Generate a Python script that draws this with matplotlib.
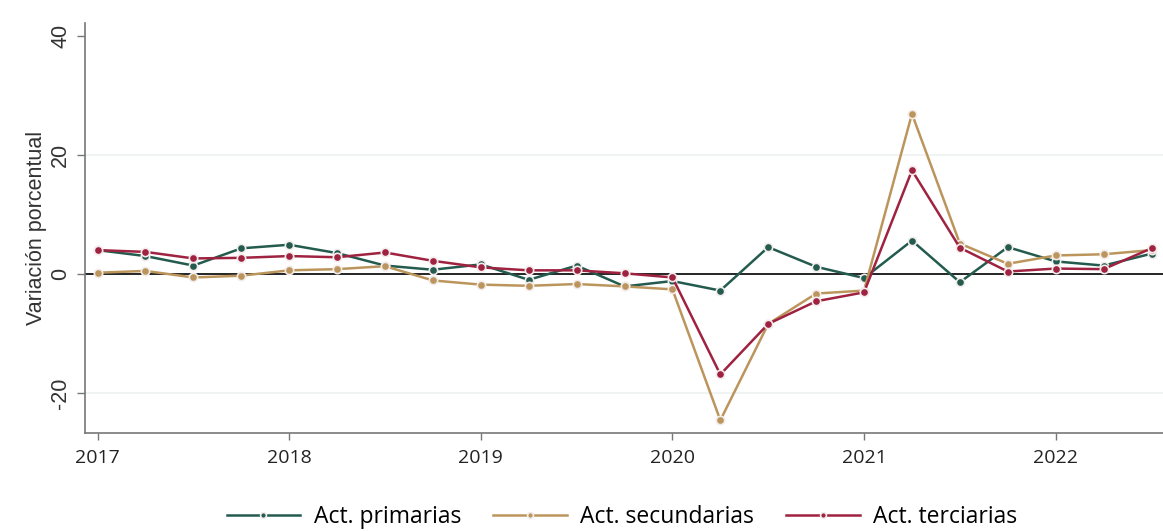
import numpy as np
import matplotlib
matplotlib.use("Agg")
import matplotlib.pyplot as plt

matplotlib.rcParams.update({
    "font.family": ["Open Sans", "DejaVu Sans"],
    "axes.spines.right": False,
    "axes.spines.top": False,
})

# quarterly, 2017Q1 .. 2022Q3
years = np.arange(2017, 2022.75, 0.25)

primarias = [4.0, 3.0, 1.4, 4.3, 4.9, 3.5, 1.4, 0.7, 1.6, -1.0, 1.4, -2.1,
             -1.2, -2.8, 4.5, 1.2, -0.7, 5.6, -1.4, 4.5, 2.1, 1.4, 3.4]
secundarias = [0.2, 0.5, -0.6, -0.3, 0.6, 0.8, 1.3, -1.1, -1.8, -2.0, -1.7, -2.1,
               -2.6, -24.6, -8.4, -3.3, -2.8, 26.9, 5.1, 1.7, 3.1, 3.3, 4.0]
terciarias = [4.0, 3.7, 2.6, 2.7, 3.0, 2.8, 3.6, 2.2, 1.1, 0.6, 0.6, 0.1,
              -0.6, -16.9, -8.4, -4.6, -3.1, 17.4, 4.4, 0.4, 0.9, 0.8, 4.3]

series = [
    ("Act. primarias", primarias, "#235B4E"),
    ("Act. secundarias", secundarias, "#BC955C"),
    ("Act. terciarias", terciarias, "#9F2241"),
]

year_ticks = [2017, 2018, 2019, 2020, 2021, 2022]
y_ticks = [-20, 0, 20, 40]

fig = plt.figure(figsize=(11.63, 5.31), dpi=100)
ax = fig.add_axes([0.073, 0.185, 0.927, 0.772])

for lbl, vals, col in series:
    ax.plot(years, vals, color=col, lw=1.8, marker="o", ms=6,
            mfc=col, mec="#f3ecec", mew=1.2, label=lbl, zorder=3)

ax.axhline(0, color="black", lw=1.2, zorder=2)
for y in [-20, 20]:
    ax.axhline(y, color="#eef2f4", lw=1.2, zorder=1)

ax.set_xlim(2016.934, 2022.56)
ax.set_ylim(-26.7, 42.2)
ax.set_xticks(year_ticks, [str(y) for y in year_ticks])
ax.set_yticks(y_ticks, [str(y) for y in y_ticks])
ax.tick_params(axis="y", labelrotation=90, labelsize=15.5, colors="#333333",
               length=6, width=1, pad=4)
ax.tick_params(axis="x", labelsize=14, colors="#222222", length=5, width=1, pad=7)
for lab in ax.get_yticklabels():
    lab.set_va("center")
    lab.set_family(["Liberation Sans", "DejaVu Sans"])
for s in ["left", "bottom"]:
    ax.spines[s].set_color("#777777")
    ax.spines[s].set_linewidth(1.2)
ax.tick_params(color="#777777")

ax.set_ylabel("Variación porcentual", fontsize=15.5, color="#333333", labelpad=2,
              family=["Liberation Sans", "DejaVu Sans"])

fig.legend(loc="lower center", ncol=3, frameon=False, fontsize=16.5,
           bbox_to_anchor=(0.535, -0.035), handlelength=3.2, columnspacing=1.4,
           handletextpad=0.6, markerscale=0.7)

fig.savefig("out.png", dpi=100)
